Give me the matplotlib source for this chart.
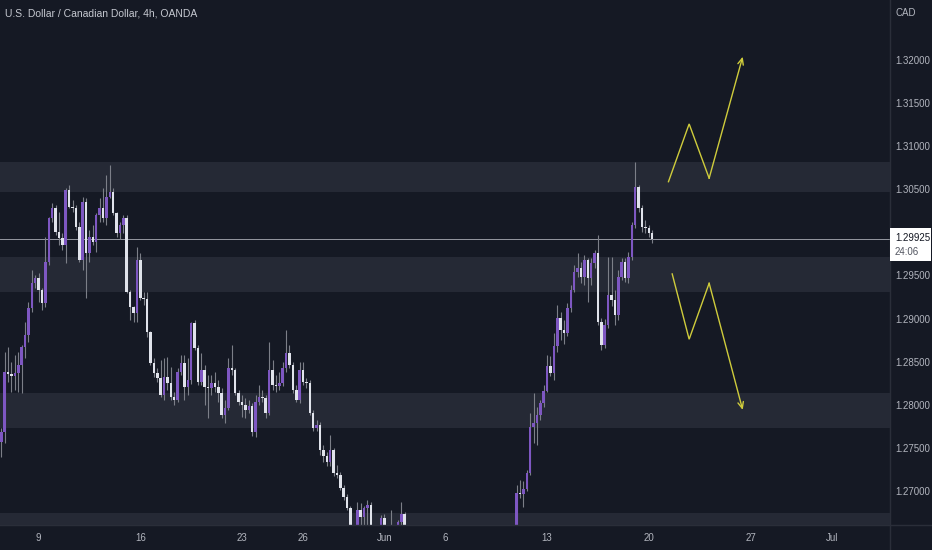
import numpy as np
import matplotlib.pyplot as plt
from matplotlib.patches import Rectangle
from matplotlib.lines import Line2D

plt.rcParams['font.family'] = ['Liberation Sans', 'DejaVu Sans']

# 4h candles, bar 0 = first bar of May 9; first visible bar is index -11
bar_start = -11
first_open = 1.2757

closes = [
    1.2768, 1.2838, 1.2836, 1.2833, 1.2837, 1.2846, 1.2867, 1.2881, 1.2912, 1.2941,  # -11
    1.2947, 1.2933, 1.2918, 1.2966, 1.3017, 1.3028, 1.3000, 1.2993, 1.2985, 1.3049,  # -1
    1.3029, 1.3028, 1.3006, 1.2968, 1.3035, 1.2976, 1.2995, 1.2989, 1.3020, 1.3028,  # 9
    1.3017, 1.3041, 1.3047, 1.3022, 1.2999, 1.3009, 1.3017, 1.2931, 1.2913, 1.2906,  # 19
    1.2968, 1.2924, 1.2923, 1.2884, 1.2849, 1.2837, 1.2831, 1.2811, 1.2832, 1.2825,  # 29
    1.2809, 1.2806, 1.2838, 1.2849, 1.2821, 1.2829, 1.2895, 1.2866, 1.2826, 1.2840,  # 39
    1.2821, 1.2819, 1.2825, 1.2821, 1.2814, 1.2788, 1.2796, 1.2843, 1.2840, 1.2814,  # 49
    1.2803, 1.2800, 1.2794, 1.2798, 1.2768, 1.2803, 1.2809, 1.2808, 1.2791, 1.2840,  # 59
    1.2823, 1.2822, 1.2825, 1.2843, 1.2860, 1.2846, 1.2817, 1.2806, 1.2840, 1.2826,  # 69
    1.2825, 1.2791, 1.2773, 1.2777, 1.2748, 1.2740, 1.2734, 1.2748, 1.2721, 1.2719,  # 79
    1.2704, 1.2693, 1.2680, 1.2645, 1.2640, 1.2678, 1.2670, 1.2680, 1.2684, 1.2645,  # 89
    1.2630, 1.2650, 1.2669, 1.2650, 1.2640, 1.2652, 1.2645, 1.2664, 1.2673, 1.2640,  # 99
    1.2620, 1.2605, 1.2595, 1.2590, 1.2580, 1.2575, 1.2590, 1.2600, 1.2585, 1.2575,  # 109
    1.2580, 1.2570, 1.2560, 1.2575, 1.2585, 1.2580, 1.2575, 1.2560, 1.2545, 1.2530,  # 119
    1.2520, 1.2535, 1.2540, 1.2555, 1.2560, 1.2550, 1.2565, 1.2575, 1.2580, 1.2595,  # 129
    1.2610, 1.2640, 1.2698, 1.2696, 1.2702, 1.2721, 1.2774, 1.2779, 1.2788, 1.2802,  # 139
    1.2816, 1.2845, 1.2837, 1.2868, 1.2901, 1.2887, 1.2883, 1.2912, 1.2933, 1.2954,  # 149
    1.2959, 1.2948, 1.2968, 1.2947, 1.2964, 1.2976, 1.2896, 1.2869, 1.2893, 1.2927,  # 159
    1.2921, 1.2904, 1.2948, 1.2966, 1.2947, 1.2972, 1.3009, 1.3053, 1.3028, 1.3006,  # 169
    1.3005, 1.2999, 1.29925,                                                        # 179
]

highs = [
    1.2773, 1.2861, 1.2867, 1.2850, 1.2858, 1.2861, 1.2869, 1.2896, 1.2919, 1.2956,
    1.2951, 1.2953, 1.2936, 1.2995, 1.3018, 1.3034, 1.3032, 1.3024, 1.2999, 1.3052,
    1.3055, 1.3038, 1.3032, 1.3012, 1.3041, 1.3040, 1.3003, 1.3009, 1.3023, 1.3040,
    1.3052, 1.3067, 1.3078, 1.3052, 1.3024, 1.3012, 1.3020, 1.3020, 1.2933, 1.2915,
    1.2983, 1.2976, 1.2931, 1.2931, 1.2886, 1.2854, 1.2843, 1.2852, 1.2854, 1.2855,
    1.2844, 1.2815, 1.2843, 1.2858, 1.2858, 1.2854, 1.2896, 1.2898, 1.2869, 1.2860,
    1.2846, 1.2835, 1.2835, 1.2838, 1.2829, 1.2819, 1.2805, 1.2854, 1.2869, 1.2843,
    1.2817, 1.2811, 1.2808, 1.2806, 1.2802, 1.2811, 1.2823, 1.2817, 1.2811, 1.2873,
    1.2852, 1.2835, 1.2838, 1.2850, 1.2887, 1.2869, 1.2850, 1.2823, 1.2850, 1.2850,
    1.2831, 1.2829, 1.2794, 1.2782, 1.2780, 1.2753, 1.2745, 1.2765, 1.2750, 1.2730,
    1.2722, 1.2707, 1.2697, 1.2683, 1.2658, 1.2687, 1.2686, 1.2683, 1.2690, 1.2687,
    1.2655, 1.2660, 1.2672, 1.2673, 1.2658, 1.2678, 1.2660, 1.2666, 1.2687, 1.2676,
    1.2648, 1.2628, 1.2612, 1.2603, 1.2597, 1.2588, 1.2598, 1.2609, 1.2606, 1.2592,
    1.2588, 1.2586, 1.2575, 1.2582, 1.2594, 1.2592, 1.2587, 1.2581, 1.2566, 1.2552,
    1.2537, 1.2544, 1.2549, 1.2562, 1.2568, 1.2566, 1.2571, 1.2583, 1.2589, 1.2603,
    1.2618, 1.2652, 1.2707, 1.2713, 1.2711, 1.2724, 1.2791, 1.2814, 1.2797, 1.2806,
    1.2823, 1.2858, 1.2856, 1.2883, 1.2916, 1.2908, 1.2898, 1.2918, 1.2939, 1.2962,
    1.2976, 1.2966, 1.2974, 1.2970, 1.2970, 1.2980, 1.2997, 1.2901, 1.2899, 1.2971,
    1.2971, 1.2933, 1.2956, 1.2970, 1.2970, 1.2977, 1.3012, 1.3082, 1.3055, 1.3032,
    1.3014, 1.3009, 1.3003,
]

lows = [
    1.2739, 1.2756, 1.2826, 1.2815, 1.2817, 1.2815, 1.2814, 1.2854, 1.2873, 1.2908,
    1.2935, 1.2919, 1.2910, 1.2913, 1.2962, 1.3012, 1.2997, 1.2985, 1.2980, 1.2964,
    1.3028, 1.3024, 1.3003, 1.2966, 1.2956, 1.2924, 1.2966, 1.2985, 1.2977, 1.3012,
    1.3012, 1.3009, 1.3040, 1.3020, 1.2995, 1.2992, 1.2999, 1.2930, 1.2898, 1.2896,
    1.2896, 1.2922, 1.2916, 1.2879, 1.2846, 1.2832, 1.2826, 1.2809, 1.2806, 1.2817,
    1.2806, 1.2800, 1.2803, 1.2835, 1.2806, 1.2811, 1.2824, 1.2864, 1.2823, 1.2823,
    1.2800, 1.2785, 1.2811, 1.2815, 1.2803, 1.2785, 1.2779, 1.2794, 1.2834, 1.2811,
    1.2800, 1.2786, 1.2785, 1.2791, 1.2764, 1.2763, 1.2800, 1.2803, 1.2785, 1.2788,
    1.2817, 1.2815, 1.2817, 1.2822, 1.2838, 1.2843, 1.2814, 1.2803, 1.2802, 1.2823,
    1.2819, 1.2788, 1.2769, 1.2769, 1.2742, 1.2734, 1.2729, 1.2729, 1.2717, 1.2715,
    1.2701, 1.2690, 1.2678, 1.2638, 1.2632, 1.2636, 1.2655, 1.2650, 1.2660, 1.2638,
    1.2622, 1.2625, 1.2645, 1.2640, 1.2632, 1.2635, 1.2636, 1.2640, 1.2658, 1.2632,
    1.2612, 1.2598, 1.2588, 1.2582, 1.2572, 1.2566, 1.2570, 1.2584, 1.2578, 1.2568,
    1.2569, 1.2563, 1.2552, 1.2555, 1.2570, 1.2574, 1.2568, 1.2553, 1.2540, 1.2524,
    1.2514, 1.2518, 1.2529, 1.2536, 1.2549, 1.2543, 1.2545, 1.2560, 1.2571, 1.2576,
    1.2590, 1.2605, 1.2635, 1.2692, 1.2681, 1.2700, 1.2719, 1.2756, 1.2753, 1.2782,
    1.2797, 1.2815, 1.2833, 1.2829, 1.2861, 1.2875, 1.2870, 1.2880, 1.2908, 1.2931,
    1.2948, 1.2941, 1.2939, 1.2919, 1.2939, 1.2959, 1.2893, 1.2864, 1.2866, 1.2889,
    1.2915, 1.2893, 1.2898, 1.2945, 1.2943, 1.2941, 1.2968, 1.3005, 1.3024, 1.3000,
    1.2999, 1.2995, 1.2988,
]

tick_bars = [0, 30, 60, 78, 102, 120, 150, 180, 210, 234]
tick_labels = ['9', '16', '23', '26', 'Jun', '6', '13', '20', '27', 'Jul']
price_ticks = [1.270, 1.275, 1.280, 1.285, 1.290, 1.295, 1.300, 1.305, 1.310, 1.315, 1.320]

# support / resistance zones (low, high)
zones = [(1.30472, 1.30820), (1.29312, 1.29718), (1.27731, 1.28133), (1.2600, 1.26748)]

last_price = 1.29925
countdown = '24:06'

# drawn projection paths (bar index, price)
up_path_x = [185.8, 191.9, 197.8, 207.7]
up_path_y = [1.30588, 1.31258, 1.30628, 1.32038]
down_path_x = [186.9, 191.9, 197.8, 207.7]
down_path_y = [1.29518, 1.28760, 1.29410, 1.27940]

BG = '#151924'
ZONE = '#252935'
UP = '#7e57c2'
DOWN = '#e0e3eb'
WICK = '#7c7f88'
TXT = '#b2b5be'
GRIDLINE = '#2a2e39'
PATH = '#cfcc3c'
FS = 7

W, H = 932, 550
fig = plt.figure(figsize=(W / 100, H / 100), dpi=100, facecolor=BG)
ax = fig.add_axes([0, 25 / H, 890 / W, 525 / H])
ax.set_facecolor(BG)

c = np.array(closes)
o = np.r_[first_open, c[:-1]]
hi = np.array(highs)
lo = np.array(lows)
x = np.arange(bar_start, bar_start + len(c))

for z0, z1 in zones:
    ax.axhspan(z0, z1, color=ZONE, lw=0, zorder=0)

ax.axhline(last_price, color='#9598a1', lw=0.7, zorder=1)

ax.vlines(x, lo, hi, color=WICK, lw=0.8, zorder=2)
up = c >= o
body = np.abs(c - o)
body = np.where(body < 0.00008, 0.00008, body)
bottom = np.minimum(o, c)
ax.bar(x[up], body[up], bottom=bottom[up], width=0.74, color=UP, lw=0, zorder=3)
ax.bar(x[~up], body[~up], bottom=bottom[~up], width=0.74, color=DOWN, lw=0, zorder=3)

# projection paths
for px, py in [(up_path_x, up_path_y), (down_path_x, down_path_y)]:
    ax.plot(px[:3], py[:3], color=PATH, lw=1.0, zorder=4, solid_joinstyle='miter')
    ax.annotate('', xy=(px[3], py[3]), xytext=(px[2], py[2]),
                arrowprops=dict(arrowstyle='->,head_length=0.45,head_width=0.2',
                                color=PATH, lw=1.0, shrinkA=0, shrinkB=0),
                zorder=4)

ax.set_xlim(-11.39, 251.15)
ax.set_ylim(1.26605, 1.32696)

for s in ax.spines.values():
    s.set_visible(False)

ax.set_xticks(tick_bars)
ax.set_xticklabels(tick_labels)
ax.yaxis.tick_right()
ax.set_yticks(price_ticks)
ax.set_yticklabels([f'{p:.5f}' for p in price_ticks])
ax.tick_params(axis='both', length=0, colors=TXT, labelsize=FS)
ax.tick_params(axis='y', pad=4)
ax.tick_params(axis='x', pad=6)

# panel separators
fig.add_artist(Line2D([890 / W, 890 / W], [0, 1], color=GRIDLINE, lw=1))
fig.add_artist(Line2D([0, 1], [25 / H, 25 / H], color=GRIDLINE, lw=1))

fig.text(5 / W, 1 - 13 / H, 'U.S. Dollar / Canadian Dollar, 4h, OANDA',
         color='#c5c8d0', fontsize=7.5, va='center', ha='left')
fig.text(895 / W, 1 - 13 / H, 'CAD', color=TXT, fontsize=FS, va='center', ha='left')

# last price label
fig.add_artist(Rectangle((890 / W, 1 - 261 / H), 41 / W, 33 / H,
                         transform=fig.transFigure, facecolor='white', lw=0, zorder=5))
fig.text(895 / W, 1 - 238 / H, f'{last_price:.5f}', color='#131722', fontsize=FS,
         va='center', ha='left', zorder=6)
fig.text(895 / W, 1 - 252 / H, countdown, color='#50535e', fontsize=FS,
         va='center', ha='left', zorder=6)

fig.savefig('out.png', dpi=100, facecolor=BG)
